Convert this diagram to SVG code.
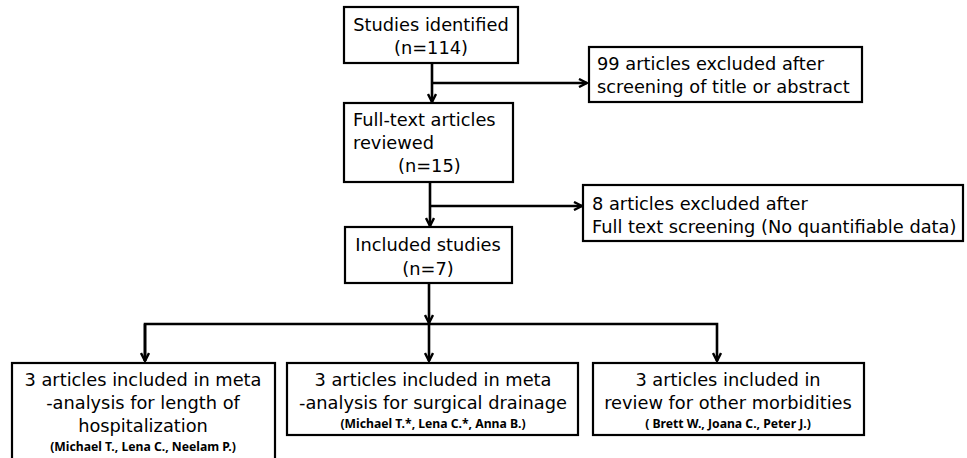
<svg xmlns="http://www.w3.org/2000/svg" width="967" height="458" viewBox="0 0 967 458">
<defs>
<style>
.box{fill:#fff;stroke:#000;stroke-width:2.2}
.t{font-family:"DejaVu Sans","Noto Sans","Liberation Sans",sans-serif;font-size:17.8px;fill:#000}
.s{font-family:"Noto Sans","Open Sans","Liberation Sans",sans-serif;font-size:12.2px;font-weight:bold;fill:#000}
.c{text-anchor:middle}
.ln{fill:none;stroke:#000;stroke-width:2.6}
</style>
<marker id="ah" viewBox="0 0 10 10" refX="9" refY="5" markerWidth="10" markerHeight="10" markerUnits="userSpaceOnUse" orient="auto">
<path d="M1,1 L9,5 L1,9" fill="none" stroke="#000" stroke-width="2.4"/>
</marker>
</defs>
<rect width="967" height="458" fill="#fff"/>
<g id="connectors">
<path class="ln" d="M432,63 V102" marker-end="url(#ah)"/>
<path class="ln" d="M432,83 H587" marker-end="url(#ah)"/>
<path class="ln" d="M430,182 V226" marker-end="url(#ah)"/>
<path class="ln" d="M430,206 H582" marker-end="url(#ah)"/>
<path class="ln" d="M429,283 V323" marker-end="url(#ah)"/>
<path class="ln" d="M145,361 V324 H717 V361" marker-end="url(#ah)"/>
<path class="ln" d="M145,324 V361" marker-end="url(#ah)"/>
<path class="ln" d="M429,324 V361" marker-end="url(#ah)"/>
</g>
<g id="identified">
<rect class="box" x="344" y="7" width="174" height="56"/>
<text class="t c" x="431" y="31">Studies identified</text>
<text class="t c" x="431" y="54">(n=114)</text>
</g>
<g id="excluded1">
<rect class="box" x="589" y="47" width="273" height="55"/>
<text class="t" x="597" y="70">99 articles excluded after</text>
<text class="t" x="597" y="93">screening of title or abstract</text>
</g>
<g id="fulltext">
<rect class="box" x="344" y="103" width="169" height="79"/>
<text class="t" x="353" y="126">Full-text articles</text>
<text class="t" x="353" y="149">reviewed</text>
<text class="t" x="398" y="172">(n=15)</text>
</g>
<g id="excluded2">
<rect class="box" x="583" y="185" width="380" height="56"/>
<text class="t" x="592" y="210">8 articles excluded after</text>
<text class="t" x="592" y="233">Full text screening (No quantifiable data)</text>
</g>
<g id="included">
<rect class="box" x="345" y="227" width="167" height="56"/>
<text class="t c" x="428" y="251">Included studies</text>
<text class="t c" x="428" y="275">(n=7)</text>
</g>
<g id="hospitalization">
<rect class="box" x="12" y="363" width="263" height="97"/>
<text class="t c" x="143" y="386">3 articles included in meta</text>
<text class="t c" x="143" y="409">-analysis for length of</text>
<text class="t c" x="143" y="432">hospitalization</text>
<text class="s c" x="143" y="451">(Michael T., Lena C., Neelam P.)</text>
</g>
<g id="drainage">
<rect class="box" x="287" y="363" width="291" height="72"/>
<text class="t c" x="433" y="386">3 articles included in meta</text>
<text class="t c" x="433" y="409">-analysis for surgical drainage</text>
<text class="s c" x="433" y="428">(Michael T.*, Lena C.*, Anna B.)</text>
</g>
<g id="morbidities">
<rect class="box" x="593" y="363" width="271" height="72"/>
<text class="t c" x="728" y="386">3 articles included in</text>
<text class="t c" x="728" y="409">review for other morbidities</text>
<text class="s c" x="728" y="428">( Brett W., Joana C., Peter J.)</text>
</g>
</svg>
